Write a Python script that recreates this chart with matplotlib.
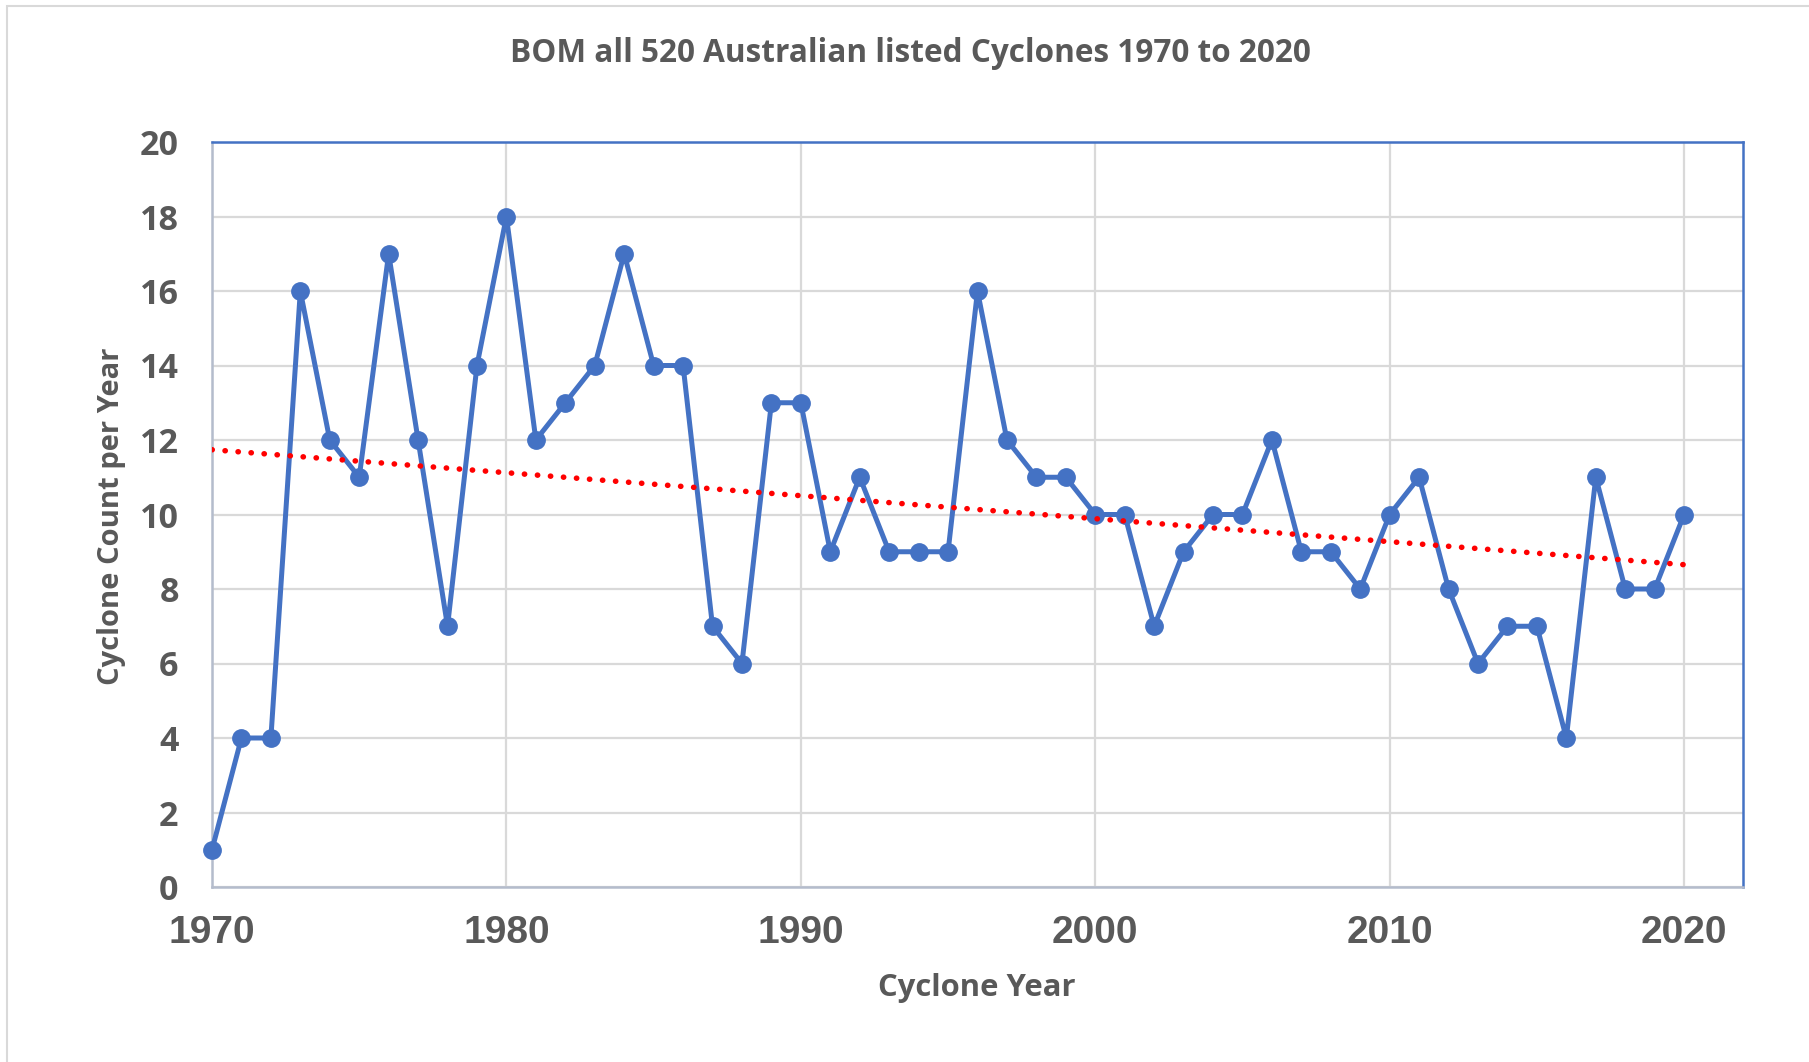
import numpy as np
import matplotlib
matplotlib.use("Agg")
import matplotlib.pyplot as plt
from matplotlib.patches import Rectangle

# Cyclone counts per year (BOM list)
years = list(range(1970, 2021))
counts = [1, 4, 4, 16, 12, 11, 17, 12, 7, 14,
          18, 12, 13, 14, 17, 14, 14, 7, 6, 13,
          13, 9, 11, 9, 9, 9, 16, 12, 11, 11,
          10, 10, 7, 9, 10, 10, 12, 9, 9, 8,
          10, 11, 8, 6, 7, 7, 4, 11, 8, 8,
          10]

x_ticks = [1970, 1980, 1990, 2000, 2010, 2020]
y_ticks = list(range(0, 21, 2))

title = "BOM all 520 Australian listed Cyclones 1970 to 2020"
xlabel = "Cyclone Year"
ylabel = "Cyclone Count per Year"

txt = "#595959"
blue = "#4472C4"
grid_c = "#d9d9d9"

W, H = 1809, 1062
fig = plt.figure(figsize=(W / 100, H / 100), dpi=100)

# chart area border (light gray, like Excel)
fig.patches.append(Rectangle((7 / W, -0.1), 1.2, 1 - 6 / H + 0.1,
                             transform=fig.transFigure, fill=False,
                             edgecolor=grid_c, linewidth=1.5))

ax = fig.add_axes([212 / W, 1 - 887 / H, (1743 - 212) / W, (887 - 142) / H])

ax.plot(years, counts, color=blue, linewidth=3.6, marker="o",
        markersize=12.5, zorder=3, clip_on=False)

# linear trend line
k, m = np.polyfit(years, counts, 1)
yr = np.array([years[0], years[-1]])
ax.plot(yr, k * yr + m, color="#ff0000", linewidth=4.0,
        linestyle=(0, (0.05, 2.3)), dash_capstyle="round", zorder=4)

ax.set_xlim(1970, 2022)
ax.set_ylim(0, 20)
ax.set_xticks(x_ticks)
ax.set_yticks(y_ticks)
ax.grid(True, color=grid_c, linewidth=1.6)
ax.set_axisbelow(True)
ax.tick_params(length=0)

for lab in ax.get_xticklabels():
    lab.set_fontfamily("Liberation Sans")
    lab.set_fontweight("bold")
    lab.set_fontsize(28)
    lab.set_color(txt)
for lab in ax.get_yticklabels():
    lab.set_fontfamily("Open Sans")
    lab.set_fontweight("bold")
    lab.set_fontsize(24.5)
    lab.set_color(txt)
ax.tick_params(axis="y", pad=24)
ax.tick_params(axis="x", pad=20)

for s in ["left", "bottom"]:
    ax.spines[s].set_color("#b4bccc")
    ax.spines[s].set_linewidth(1.8)
for s in ["top", "right"]:
    ax.spines[s].set_color(blue)
    ax.spines[s].set_linewidth(1.8)

fig.text(910 / W, 1 - 54 / H, title, ha="center", va="center",
         fontsize=22.7, fontweight="bold", color=txt, family="Open Sans")
fig.text(977 / W, 1 - 988 / H, xlabel, ha="center", va="center",
         fontsize=22.3, fontweight="bold", color=txt, family="Open Sans")
fig.text(112 / W, 1 - 516 / H, ylabel, ha="center", va="center",
         rotation=90, fontsize=21, fontweight="bold", color=txt,
         family="Open Sans")

fig.savefig("out.png", dpi=100)
